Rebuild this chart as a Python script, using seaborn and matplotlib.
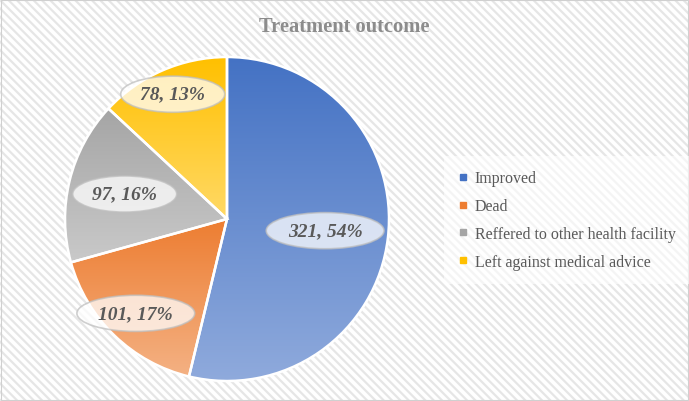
import numpy as np
import matplotlib
matplotlib.use("Agg")
import matplotlib.pyplot as plt
from matplotlib.colors import to_rgb
from matplotlib.lines import Line2D
from matplotlib.patches import Rectangle
import seaborn as sns

# data
outcomes = ["Improved", "Dead", "Reffered to other health facility",
            "Left against medical advice"]
counts = [321, 101, 97, 78]
percents = [54, 17, 16, 13]

# excel-like colours: top of the gradient, bottom of the gradient
top_colors = ["#4472C4", "#ED7D31", "#A5A5A5", "#FFC000"]
bottom_colors = ["#8FAADC", "#F4B183", "#C9C9C9", "#FFD966"]
# how far out each data label sits (fraction of radius)
label_radius = [0.61, 0.81, 0.65, 0.84]

sns.set_theme(style="white")
plt.rcParams["font.family"] = ["Liberation Serif", "DejaVu Serif"]
plt.rcParams["hatch.linewidth"] = 1.6

fig = plt.figure(figsize=(6.89, 4.02), dpi=100)
fig.patch.set_facecolor("white")

# striped chart-area background + thin border
fig.patches.append(Rectangle((0, 0), 1, 1, transform=fig.transFigure,
                             facecolor="white", edgecolor="#e6e6e6",
                             hatch="\\\\\\\\", linewidth=0, zorder=-10))
fig.patches.append(Rectangle((0.001, 0.002), 0.997, 0.996, transform=fig.transFigure,
                             facecolor="none", edgecolor="#d0d0d0",
                             linewidth=0.8, zorder=-9))

# pie centre ~ (227, 220) px, radius ~162 px
r_px = 162
ax = fig.add_axes([(227 - r_px) / 689, (402 - 220 - r_px) / 402,
                   2 * r_px / 689, 2 * r_px / 402])
ax.set_facecolor("none")

wedges, _ = ax.pie(counts, colors=top_colors, startangle=90, counterclock=False,
                   wedgeprops=dict(edgecolor="white", linewidth=1.8))

# vertical gradient fill per slice (darker on top, lighter at bottom)
for w, c_top, c_bot in zip(wedges, top_colors, bottom_colors):
    ext = w.get_path().get_extents()
    t = np.linspace(0, 1, 256)[:, None]
    grad = (1 - t) * np.array(to_rgb(c_top)) + t * np.array(to_rgb(c_bot))
    grad = np.repeat(grad[:, None, :], 2, axis=1)
    im = ax.imshow(grad, extent=[ext.x0, ext.x1, ext.y0, ext.y1],
                   origin="upper", aspect="auto", zorder=1, interpolation="bilinear")
    im.set_clip_path(w)
    w.set_facecolor("none")
    w.set_zorder(2)

ax.set_xlim(-1.0, 1.0)
ax.set_ylim(-1.0, 1.0)
ax.set_aspect("equal")
ax.axis("off")

# data labels in ellipses
for w, n, p, rr in zip(wedges, counts, percents, label_radius):
    ang = np.deg2rad((w.theta1 + w.theta2) / 2)
    ax.text(rr * np.cos(ang), rr * np.sin(ang), f"{n}, {p}%",
            ha="center", va="center", fontsize=14, fontweight="bold",
            fontstyle="italic", color="#595959", zorder=5,
            bbox=dict(boxstyle="ellipse,pad=0.22", facecolor="white",
                      alpha=0.75, edgecolor="#bfbfbf", linewidth=1.2))

fig.text(0.50, 0.932, "Treatment outcome", ha="center", va="center",
         fontsize=14.8, fontweight="bold", color="#8c8c8c")

handles = [Line2D([], [], marker="s", linestyle="none", markersize=4,
                  markerfacecolor=c, markeredgecolor=c) for c in top_colors]
leg = fig.legend(handles, outcomes, loc="center left",
                 bbox_to_anchor=(0.64, 0.45), frameon=True, fontsize=11.5,
                 labelcolor="#595959", handlelength=0.6, handletextpad=0.4,
                 labelspacing=0.75, borderpad=0.6)
leg.get_frame().set_facecolor("white")
leg.get_frame().set_alpha(0.6)
leg.get_frame().set_edgecolor("none")
leg.get_frame().set_boxstyle("square")

fig.savefig("out.png", dpi=100)
